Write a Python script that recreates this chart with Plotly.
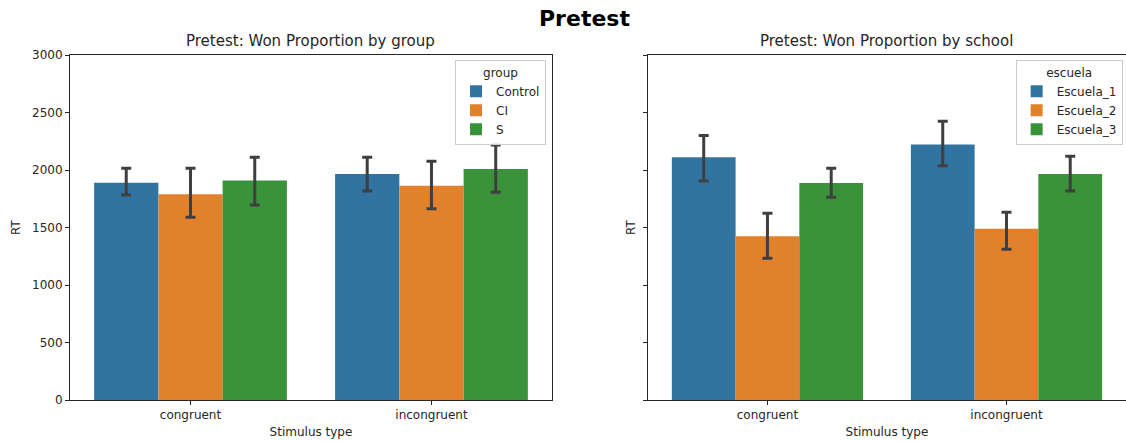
import plotly.graph_objects as go

categories = ["congruent", "incongruent"]

groups = ["Control", "CI", "S"]
group_rt = {
    "Control": [1890, 1966],
    "CI": [1789, 1864],
    "S": [1908, 2009],
}
group_hi = {
    "Control": [2015, 2110],
    "CI": [2015, 2076],
    "S": [2110, 2218],
}
group_lo = {
    "Control": [1783, 1818],
    "CI": [1589, 1664],
    "S": [1696, 1806],
}

schools = ["Escuela_1", "Escuela_2", "Escuela_3"]
school_rt = {
    "Escuela_1": [2110, 2221],
    "Escuela_2": [1423, 1490],
    "Escuela_3": [1887, 1966],
}
school_hi = {
    "Escuela_1": [2299, 2424],
    "Escuela_2": [1623, 1632],
    "Escuela_3": [2015, 2119],
}
school_lo = {
    "Escuela_1": [1905, 2038],
    "Escuela_2": [1232, 1310],
    "Escuela_3": [1763, 1818],
}

y_ticks = [0, 500, 1000, 1500, 2000, 2500, 3000]
colors = ["#3274a1", "#e1812c", "#3a923a"]

FONT = "DejaVu Sans"
fig = go.Figure()

def add_bars(names, rt, hi, lo, xaxis, yaxis, legend):
    for i, n in enumerate(names):
        fig.add_trace(go.Bar(
            x=[0, 1], y=rt[n], name=n,
            marker=dict(color=colors[i], line=dict(width=0)),
            error_y=dict(type="data", symmetric=False,
                         array=[h - v for h, v in zip(hi[n], rt[n])],
                         arrayminus=[v - l for l, v in zip(lo[n], rt[n])],
                         color="#3f3f3f", thickness=3, width=5),
            xaxis=xaxis, yaxis=yaxis, legend=legend, offsetgroup=str(i),
        ))

add_bars(groups, group_rt, group_hi, group_lo, "x", "y", "legend")
add_bars(schools, school_rt, school_hi, school_lo, "x2", "y2", "legend2")

axis_common = dict(showline=True, linecolor="#262626", linewidth=1, mirror=True,
                   ticks="outside", ticklen=4, tickcolor="#262626", showgrid=False,
                   zeroline=False, tickfont=dict(family=FONT, size=12, color="#262626"))

fig.update_layout(
    width=1126, height=441,
    margin=dict(l=70, r=0, t=55, b=41),
    paper_bgcolor="white", plot_bgcolor="white",
    barmode="group", bargap=0.2, bargroupgap=0,
    font=dict(family=FONT, size=12, color="#262626"),
    xaxis=dict(domain=[0, 0.4564], range=[-0.5, 1.5], tickvals=[0, 1], ticktext=categories,
               title=dict(text="Stimulus type", font=dict(size=12), standoff=6), **axis_common),
    xaxis2=dict(domain=[0.5473, 1.0], range=[-0.5, 1.5], tickvals=[0, 1], ticktext=categories,
                anchor="y2",
                title=dict(text="Stimulus type", font=dict(size=12), standoff=6), **axis_common),
    yaxis=dict(range=[0, 3000], tickvals=y_ticks,
               title=dict(text="RT", font=dict(size=12), standoff=8), **axis_common),
    yaxis2=dict(range=[0, 3000], tickvals=y_ticks, anchor="x2", showticklabels=False,
                title=dict(text="RT", font=dict(size=12), standoff=4), **axis_common),
    legend=dict(x=0.3646, y=0.985, xanchor="left", yanchor="top",
                bgcolor="rgba(255,255,255,0.8)", bordercolor="#cccccc", borderwidth=1,
                font=dict(size=12), title=dict(text="group", side="top center", font=dict(size=12)),
                tracegroupgap=0, itemwidth=30),
    legend2=dict(x=0.8955, y=0.985, xanchor="left", yanchor="top",
                 bgcolor="rgba(255,255,255,0.8)", bordercolor="#cccccc", borderwidth=1,
                 font=dict(size=12), title=dict(text="escuela", side="top center", font=dict(size=12)),
                 tracegroupgap=0, itemwidth=30),
    annotations=[
        dict(text="<b>Pretest</b>", x=(584 - 70) / 1056, y=(441 - 18 - 41) / 345,
             xref="paper", yref="paper", xanchor="center", yanchor="middle",
             showarrow=False, font=dict(family=FONT, size=22, color="black")),
        dict(text="Pretest: Won Proportion by group", x=0.4564 / 2, y=1, yshift=3,
             xref="paper", yref="paper", xanchor="center", yanchor="bottom",
             showarrow=False, font=dict(family=FONT, size=15, color="#262626")),
        dict(text="Pretest: Won Proportion by school", x=(0.5473 + 1) / 2, y=1, yshift=3,
             xref="paper", yref="paper", xanchor="center", yanchor="bottom",
             showarrow=False, font=dict(family=FONT, size=15, color="#262626")),
    ],
)

fig.write_html("out.html")
